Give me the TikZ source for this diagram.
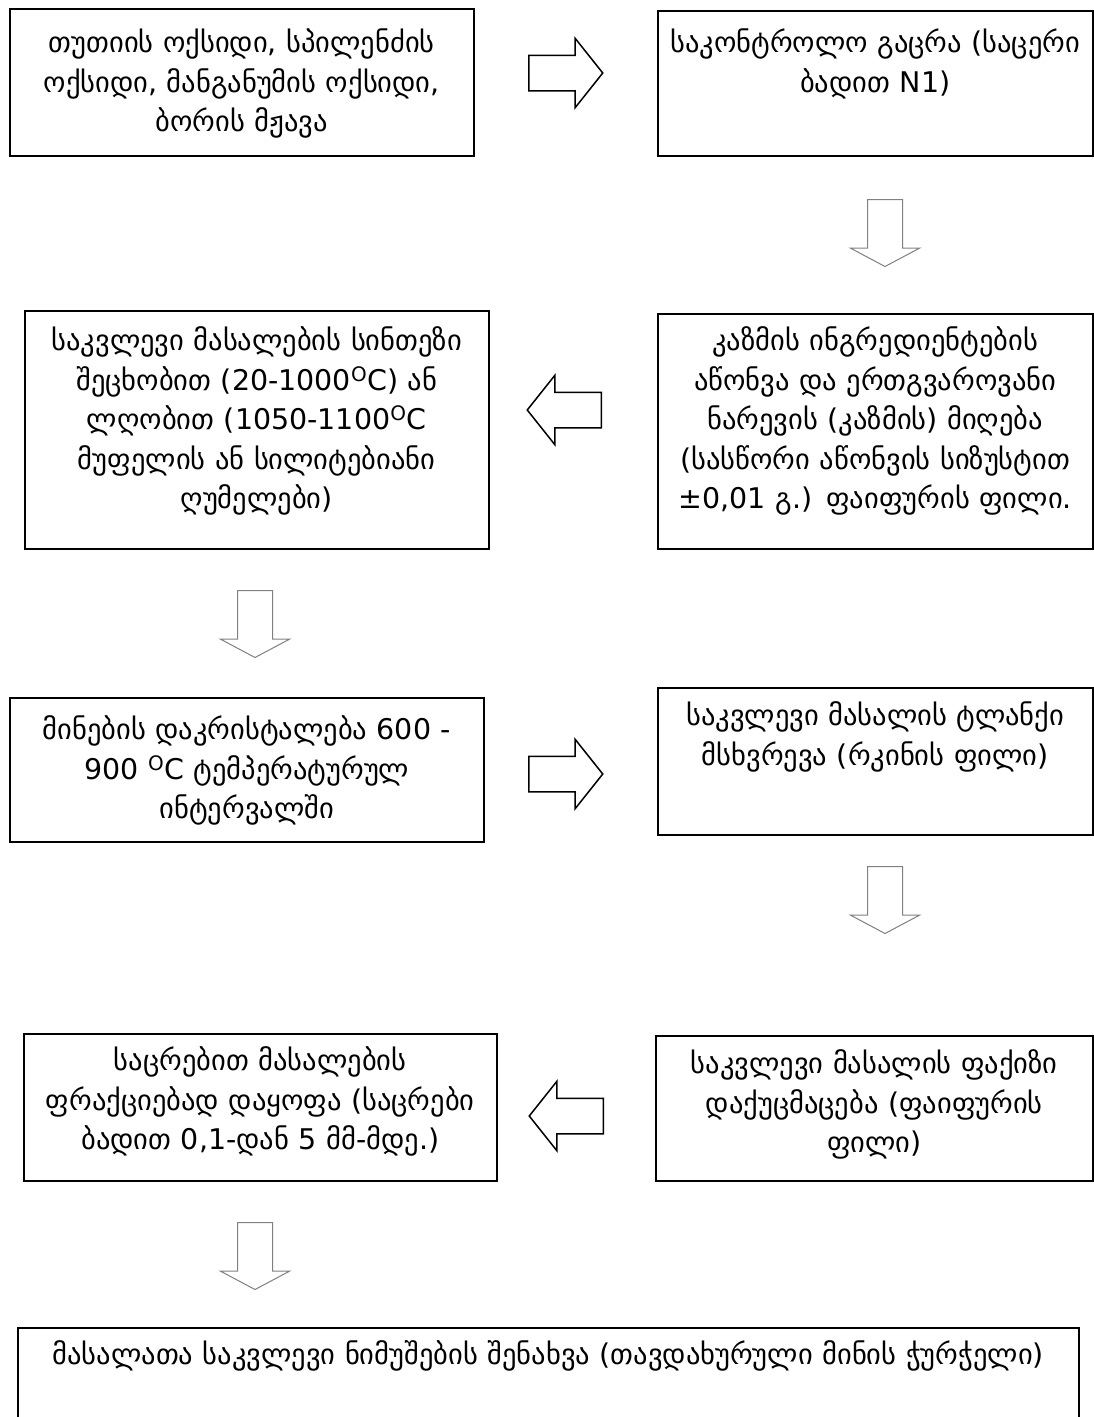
\documentclass[tikz,border=0pt]{standalone}
\usepackage{fontspec}
\setmainfont{DejaVu Sans}
\usetikzlibrary{shapes.arrows,positioning}

\begin{document}
\begin{tikzpicture}[x=1pt,y=-1pt,
      stepbox/.style={
         draw,
         line width=1.5pt,
         anchor=north west,
         inner sep=0pt,
         align=center,
         font=\fontsize{28.5}{39.5}\selectfont
      },
      flowarrow/.style={
         single arrow,
         draw,
         line width=1.5pt,
         inner xsep=0pt,
         inner ysep=17pt,
         anchor=tail,
         minimum height=74pt,
         single arrow head extend=17pt,
         single arrow tip angle=103
      },
      downarrow/.style={
         flowarrow,
         draw=black!50,
         line width=1pt,
         inner xsep=17pt,
         inner ysep=0pt,
         minimum height=67pt,
         single arrow tip angle=124,
         shape border rotate=270
      }
    ]
    \useasboundingbox (0,0) rectangle (1094,1417);
    \clip (0,0) rectangle (1094,1417);
    \fill[white] (0,0) rectangle (1094,1417);

    % boxes
    \node (b1) [stepbox, text width=464pt, text height=44pt, text depth=103pt] at (9,8)
       {თუთიის ოქსიდი, სპილენძის\\ოქსიდი, მანგანუმის ოქსიდი,\\ბორის მჟავა};
    \node (b2) [stepbox, text width=435pt, text height=42pt, text depth=103pt] at (657,10)
       {საკონტროლო გაცრა (საცერი\\ბადით N1)};
    \node (b4) [stepbox, text width=435pt, text height=37pt, text depth=198pt] at (657,313)
       {კაზმის ინგრედიენტების\\აწონვა და ერთგვაროვანი\\ნარევის (კაზმის) მიღება\\(სასწორი აწონვის სიზუსტით\\±0,01 გ.) ფაიფურის ფილი.};
    \node (b3) [stepbox, text width=464pt, text height=40pt, text depth=198pt] at (24,310)
       {საკვლევი მასალების სინთეზი\\შეცხობით (20-1000\textsuperscript{O}C) ან\\ლღობით (1050-1100\textsuperscript{O}C\\მუფელის ან სილიტებიანი\\ღუმელები)};
    \node (b5) [stepbox, text width=474pt, text height=42pt, text depth=102pt] at (9,697)
       {მინების დაკრისტალება 600 -\\900 \textsuperscript{O}C ტემპერატურულ\\ინტერვალში};
    \node (b6) [stepbox, text width=435pt, text height=38pt, text depth=109pt] at (657,687)
       {საკვლევი მასალის ტლანქი\\მსხვრევა (რკინის ფილი)};
    \node (b8) [stepbox, text width=437pt, text height=38pt, text depth=107pt] at (655,1035)
       {საკვლევი მასალის ფაქიზი\\დაქუცმაცება (ფაიფურის\\ფილი)};
    \node (b7) [stepbox, text width=473pt, text height=37pt, text depth=110pt] at (23,1033)
       {საცრებით მასალების\\ფრაქციებად დაყოფა (საცრები\\ბადით 0,1-დან 5 მმ-მდე.)};
    \node (b9) [stepbox, text width=1061pt, text height=37pt, text depth=90pt] at (17,1327)
       {მასალათა საკვლევი ნიმუშების შენახვა (თავდახურული მინის ჭურჭელი)};

    % arrows between the boxes
    \node (a12) [flowarrow] at (528,73) {};
    \node (a24) [downarrow] at (885,199) {};
    \node (a43) [flowarrow, shape border rotate=180] at (602,410) {};
    \node (a35) [downarrow] at (255,590) {};
    \node (a56) [flowarrow] at (528,774) {};
    \node (a68) [downarrow] at (885,866) {};
    \node (a87) [flowarrow, shape border rotate=180] at (604,1116) {};
    \node (a79) [downarrow] at (255,1222) {};
\end{tikzpicture}
\end{document}
